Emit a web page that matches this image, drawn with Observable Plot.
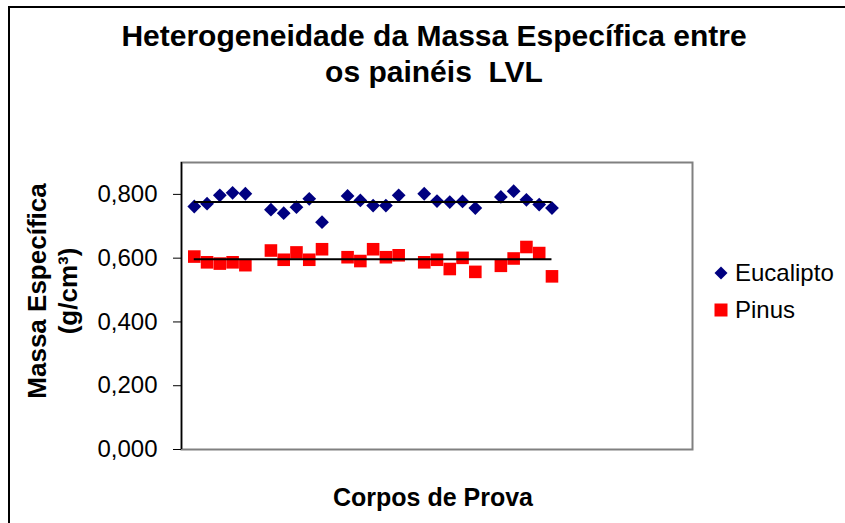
<!DOCTYPE html>
<html>
<head>
<meta charset="utf-8">
<script src="https://cdn.jsdelivr.net/npm/d3@7"></script>
<script src="https://cdn.jsdelivr.net/npm/@observablehq/plot@0.6"></script>
<style>
  html, body { margin: 0; padding: 0; background: #fff; overflow: hidden; }
  #wrap { position: relative; width: 845px; height: 523px; font-family: "Liberation Sans", Arial, sans-serif; }
  #border { position: absolute; left: 8px; top: 6px; width: 900px; height: 600px; border: 2px solid #000; box-sizing: border-box; }
  #chart { position: absolute; left: 0; top: 0; }
  #legend { position: absolute; left: 713px; top: 254px; font-size: 24px; color: #000; line-height: 37px; }
  #legend div { display: flex; align-items: center; }
  #legend svg { margin-right: 6px; }
</style>
</head>
<body>
<div id="wrap">
  <div id="border"></div>
  <div id="chart"></div>
  <div id="legend"></div>
</div>
<script>
// ---- data ----
const corpos = [1, 2, 3, 4, 5, 7, 8, 9, 10, 11, 13, 14, 15, 16, 17, 19, 20, 21, 22, 23, 25, 26, 27, 28, 29];
const eucalipto = [0.762, 0.771, 0.797, 0.805, 0.802, 0.752, 0.741, 0.760, 0.786, 0.713,
                   0.795, 0.781, 0.765, 0.765, 0.797, 0.802, 0.779, 0.776, 0.778, 0.757,
                   0.792, 0.810, 0.783, 0.768, 0.757];
const pinus = [0.605, 0.587, 0.583, 0.587, 0.578, 0.624, 0.595, 0.618, 0.595, 0.628,
               0.603, 0.591, 0.628, 0.603, 0.609, 0.587, 0.595, 0.566, 0.601, 0.557,
               0.576, 0.599, 0.635, 0.616, 0.543];
const yTicks = [0, 0.2, 0.4, 0.6, 0.8];
const seriesNames = ["Eucalipto", "Pinus"];
const title1 = "Heterogeneidade da Massa Específica entre";
const title2 = "os painéis \u00a0LVL";
const yLabel1 = "Massa Específica";
const yLabel2 = "(g/cm³)";
const xLabel = "Corpos de Prova";

const eucRows = corpos.map((c, i) => ({x: c, y: eucalipto[i]}));
const pinRows = corpos.map((c, i) => ({x: c, y: pinus[i]}));
const fmt = d => d.toFixed(3).replace(".", ",");
const xMin = d3.min(corpos), xMax = d3.max(corpos);

const chart = Plot.plot({
  width: 845,
  height: 523,
  marginLeft: 181,
  marginRight: 153,
  marginTop: 162,
  marginBottom: 74,
  style: {fontFamily: "'Liberation Sans', Arial, sans-serif", color: "#000", background: "transparent", overflow: "visible"},
  x: {domain: [0, 40], axis: null},
  y: {domain: [0, 0.9], axis: null},
  marks: [
    Plot.frame({stroke: "#808080", strokeWidth: 2}),
    Plot.ruleX([0], {stroke: "#000", strokeWidth: 1.5}),
    Plot.axisY(yTicks, {tickSize: 8, tickPadding: 16, tickFormat: fmt, fontSize: 24, label: null, stroke: "#000", strokeWidth: 1}),
    Plot.dot(eucRows, {x: "x", y: "y", symbol: "diamond2", r: 6.2, fill: "#000080", stroke: "none"}),
    Plot.dot(pinRows, {x: "x", y: "y", symbol: "square", r: 7.1, fill: "#ff0000", stroke: "none"}),
    Plot.ruleY([d3.mean(eucalipto)], {x1: xMin, x2: xMax, stroke: "#000", strokeWidth: 2}),
    Plot.ruleY([d3.mean(pinus)], {x1: xMin, x2: xMax, stroke: "#000", strokeWidth: 2}),
    Plot.text([title1], {frameAnchor: "top", dx: -3, dy: -126, lineAnchor: "middle", fontSize: 30, fontWeight: "bold", fill: "#000"}),
    Plot.text([title2], {frameAnchor: "top", dx: -3, dy: -90, lineAnchor: "middle", fontSize: 30, fontWeight: "bold", fill: "#000"}),
    Plot.text([yLabel1], {frameAnchor: "left", dx: -144, dy: -15, rotate: -90, lineAnchor: "middle", textAnchor: "middle", fontSize: 26, fontWeight: "bold", fill: "#000"}),
    Plot.text([yLabel2], {frameAnchor: "left", dx: -113, dy: -15, rotate: -90, lineAnchor: "middle", textAnchor: "middle", fontSize: 26, fontWeight: "bold", fill: "#000"}),
    Plot.text([xLabel], {frameAnchor: "bottom", dx: -4, dy: 48, lineAnchor: "middle", fontSize: 25, fontWeight: "bold", fill: "#000"})
  ]
});
document.getElementById("chart").appendChild(chart);

// legend
const legend = document.getElementById("legend");
const shapes = [
  '<svg width="16" height="16" viewBox="-8 -8 16 16"><path d="M0,-6.5L6.5,0L0,6.5L-6.5,0Z" fill="#000080"/></svg>',
  '<svg width="16" height="16" viewBox="-8 -8 16 16"><rect x="-6.5" y="-6.5" width="13" height="13" fill="#ff0000"/></svg>'
];
seriesNames.forEach((name, i) => {
  const row = document.createElement("div");
  row.innerHTML = shapes[i] + "<span>" + name + "</span>";
  legend.appendChild(row);
});
</script>
</body>
</html>
